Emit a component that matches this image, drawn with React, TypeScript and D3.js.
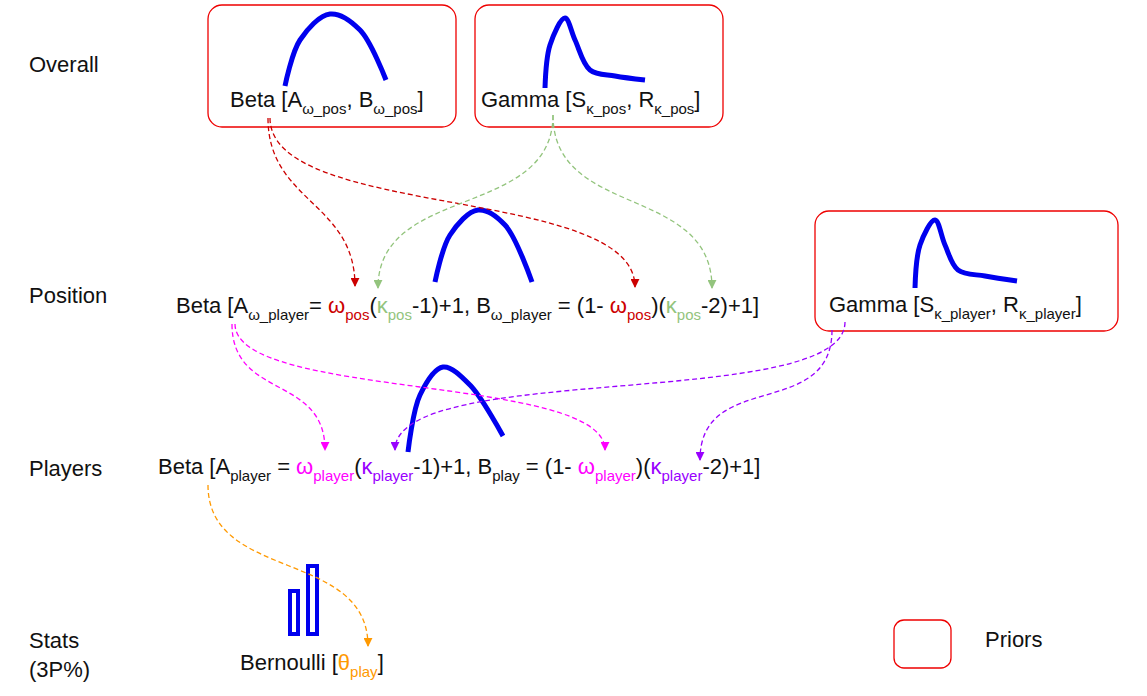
import React from "react";
import * as d3 from "d3";

const RED = "#cc0000";
const GREEN = "#93c47d";
const MAGENTA = "#ff00ff";
const PURPLE = "#9900ff";
const ORANGE = "#ff9900";
const BLUE = "#0000ee";

const levels = [
  { label: "Overall", y: 72 },
  { label: "Position", y: 303 },
  { label: "Players", y: 476 },
  { label: "Stats", y: 648 },
  { label: "(3P%)", y: 677 },
];

const priorBoxes = [
  { x: 208, y: 5, w: 248, h: 122 },
  { x: 475, y: 5, w: 248, h: 122 },
  { x: 815, y: 211, w: 303, h: 120 },
];

const betaCurves = [
  [[285, 86], [300, 40], [330, 14], [360, 30], [386, 80]],
  [[435, 282], [450, 235], [478, 210], [505, 225], [532, 282]],
  [[408, 452], [420, 395], [443, 367], [470, 385], [503, 436]],
];

const gammaCurves = [
  [[545, 88], [550, 45], [565, 18], [575, 40], [590, 70], [615, 76], [645, 80]],
  [[915, 288], [920, 245], [935, 220], [945, 245], [958, 270], [985, 276], [1017, 281]],
];

type Seg = { t: string; sub?: boolean; color?: string };

const texts: { x: number; y: number; segs: Seg[] }[] = [
  { x: 230, y: 107, segs: [{ t: "Beta [A" }, { t: "ω_pos", sub: true }, { t: ", B" }, { t: "ω_pos", sub: true }, { t: "]" }] },
  { x: 481, y: 107, segs: [{ t: "Gamma [S" }, { t: "κ_pos", sub: true }, { t: ", R" }, { t: "κ_pos", sub: true }, { t: "]" }] },
  { x: 829, y: 312, segs: [{ t: "Gamma [S" }, { t: "κ_player", sub: true }, { t: ", R" }, { t: "κ_player", sub: true }, { t: "]" }] },
  {
    x: 176, y: 313, segs: [
      { t: "Beta [A" }, { t: "ω_player", sub: true }, { t: "= " }, { t: "ω", color: RED }, { t: "pos", sub: true, color: RED },
      { t: "(" }, { t: "κ", color: GREEN }, { t: "pos", sub: true, color: GREEN }, { t: "-1)+1,  B" }, { t: "ω_player", sub: true },
      { t: " = (1- " }, { t: "ω", color: RED }, { t: "pos", sub: true, color: RED }, { t: ")(" }, { t: "κ", color: GREEN },
      { t: "pos", sub: true, color: GREEN }, { t: "-2)+1]" },
    ],
  },
  {
    x: 158, y: 474, segs: [
      { t: "Beta [A" }, { t: "player", sub: true }, { t: " = " }, { t: "ω", color: MAGENTA }, { t: "player", sub: true, color: MAGENTA },
      { t: "(" }, { t: "κ", color: PURPLE }, { t: "player", sub: true, color: PURPLE }, { t: "-1)+1,  B" }, { t: "play", sub: true },
      { t: " = (1- " }, { t: "ω", color: MAGENTA }, { t: "player", sub: true, color: MAGENTA }, { t: ")(" }, { t: "κ", color: PURPLE },
      { t: "player", sub: true, color: PURPLE }, { t: "-2)+1]" },
    ],
  },
  { x: 240, y: 670, segs: [{ t: "Bernoulli [" }, { t: "θ", color: ORANGE }, { t: "play", sub: true, color: ORANGE }, { t: "]" }] },
];

const arrows = [
  { from: [268, 118], to: [355, 286], color: RED, k: 0.5 },
  { from: [270, 118], to: [635, 287], color: RED, k: 0.6 },
  { from: [553, 115], to: [378, 288], color: GREEN, k: 0.6 },
  { from: [553, 115], to: [712, 288], color: GREEN, k: 0.6 },
  { from: [232, 324], to: [325, 450], color: MAGENTA, k: 0.6 },
  { from: [235, 324], to: [605, 450], color: MAGENTA, k: 0.6 },
  { from: [845, 322], to: [395, 450], color: PURPLE, k: 0.7 },
  { from: [832, 330], to: [700, 460], color: PURPLE, k: 0.7 },
  { from: [208, 485], to: [368, 646], color: ORANGE, k: 0.6 },
];

const bars = [
  { x: 290, top: 591, bottom: 634, w: 8 },
  { x: 308, top: 566, bottom: 634, w: 9 },
];

const smooth = d3.line().curve(d3.curveCatmullRom.alpha(0.5));

function arrowPath(a: any) {
  const [x1, y1] = a.from;
  const [x2, y2] = a.to;
  const dy = (y2 - y1) * a.k;
  const p = d3.path();
  p.moveTo(x1, y1);
  p.bezierCurveTo(x1, y1 + dy, x2, y2 - dy, x2, y2);
  return p.toString();
}

export default function App() {
  const colors = [RED, GREEN, MAGENTA, PURPLE, ORANGE];
  return (
    <svg width={1147} height={696} style={{ position: "absolute", left: 0, top: 0, background: "#fff" }}
      fontFamily="Liberation Sans, Arial, sans-serif">
      <defs>
        {colors.map((c) => (
          <marker key={c} id={"m" + c.slice(1)} viewBox="0 0 10 10" refX={9} refY={5}
            markerWidth={9} markerHeight={9} orient="auto-start-reverse" markerUnits="userSpaceOnUse">
            <path d="M0,0 L10,5 L0,10 z" fill={c} />
          </marker>
        ))}
      </defs>
      {levels.map((l) => (
        <text key={l.label} x={29} y={l.y} fontSize={22} fill="#111">{l.label}</text>
      ))}
      {priorBoxes.map((b, i) => (
        <rect key={i} x={b.x} y={b.y} width={b.w} height={b.h} rx={14} fill="none" stroke="#ee0000" strokeWidth={1.3} />
      ))}
      <rect x={894} y={620} width={57} height={48} rx={10} fill="none" stroke="#ee0000" strokeWidth={1.3} />
      <text x={985} y={647} fontSize={22} fill="#111">Priors</text>
      {betaCurves.concat(gammaCurves).map((c, i) => (
        <path key={i} d={smooth(c as any) || ""} fill="none" stroke={BLUE} strokeWidth={5} strokeLinecap="butt" />
      ))}
      {bars.map((b, i) => (
        <rect key={i} x={b.x} y={b.top} width={b.w} height={b.bottom - b.top} fill="none" stroke={BLUE} strokeWidth={4} />
      ))}
      {arrows.map((a, i) => (
        <path key={i} d={arrowPath(a)} fill="none" stroke={a.color} strokeWidth={1.3} strokeDasharray="5,3"
          markerEnd={`url(#m${a.color.slice(1)})`} />
      ))}
      {texts.map((t, i) => (
        <text key={i} x={t.x} y={t.y} fontSize={22} fill="#111">
          {t.segs.map((s, j) => {
            const prev = t.segs[j - 1];
            let dy = 0;
            if (s.sub && !(prev && prev.sub)) dy = 7;
            if (!s.sub && prev && prev.sub) dy = -7;
            return (
              <tspan key={j} dy={dy} fontSize={s.sub ? 15 : 22} fill={s.color || "#111"}>{s.t}</tspan>
            );
          })}
        </text>
      ))}
    </svg>
  );
}
